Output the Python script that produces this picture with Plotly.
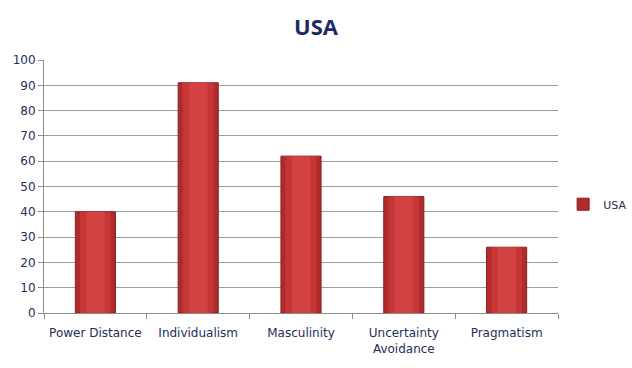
import plotly.graph_objects as go

categories = ["Power Distance", "Individualism", "Masculinity", "Uncertainty<br>Avoidance", "Pragmatism"]
values = [40, 91, 62, 46, 26]
series_name = "USA"
y_ticks = [0, 10, 20, 30, 40, 50, 60, 70, 80, 90, 100]

text_color = "#1F2D5A"

fig = go.Figure()
# base bar (dark edges) + lighter inner layers to mimic the cylinder shading
fig.add_trace(go.Bar(
    x=categories, y=values, name=series_name,
    marker=dict(color="#B02B2B", line=dict(color="#8A1E1E", width=1)),
    width=0.39, showlegend=True,
))
fig.add_trace(go.Bar(
    x=categories, y=values, name=series_name,
    marker=dict(color="#C73636", line=dict(width=0)),
    width=0.30, showlegend=False, hoverinfo="skip",
))
fig.add_trace(go.Bar(
    x=categories, y=values, name=series_name,
    marker=dict(color="#D24242", line=dict(width=0)),
    width=0.18, showlegend=False, hoverinfo="skip",
))

fig.update_layout(
    width=632, height=368,
    margin=dict(l=44, r=74, t=60, b=55, autoexpand=False),
    paper_bgcolor="white", plot_bgcolor="white",
    barmode="overlay",
    title=dict(text="<b>USA</b>", x=0.5, xanchor="center", xref="container",
               y=1 - 27 / 368, yref="container", yanchor="middle",
               font=dict(family="Open Sans", size=22, color="#1A2A66")),
    font=dict(family="DejaVu Sans", size=12, color=text_color),
    showlegend=True,
    legend=dict(x=1.01, y=0.43, xanchor="left", yanchor="middle",
                font=dict(family="DejaVu Sans", size=11, color=text_color),
                itemwidth=30, bgcolor="rgba(0,0,0,0)"),
)
fig.update_yaxes(range=[0, 100], tickvals=y_ticks, showgrid=True, gridcolor="#9E9E9E", gridwidth=1,
                 showline=True, linecolor="#8C8C8C", ticks="outside", ticklen=5, tickcolor="#8C8C8C",
                 tickfont=dict(size=12), zeroline=False, automargin=False)
fig.update_xaxes(showline=True, linecolor="#8C8C8C", ticks="outside", ticklen=5, tickcolor="#8C8C8C",
                 tickson="boundaries", showgrid=False, automargin=False, tickfont=dict(size=12),
                 ticklabelstandoff=9)

fig.write_html("out.html", config={"displayModeBar": False},
               post_script="document.body.style.margin='0';document.body.style.overflow='hidden';")
